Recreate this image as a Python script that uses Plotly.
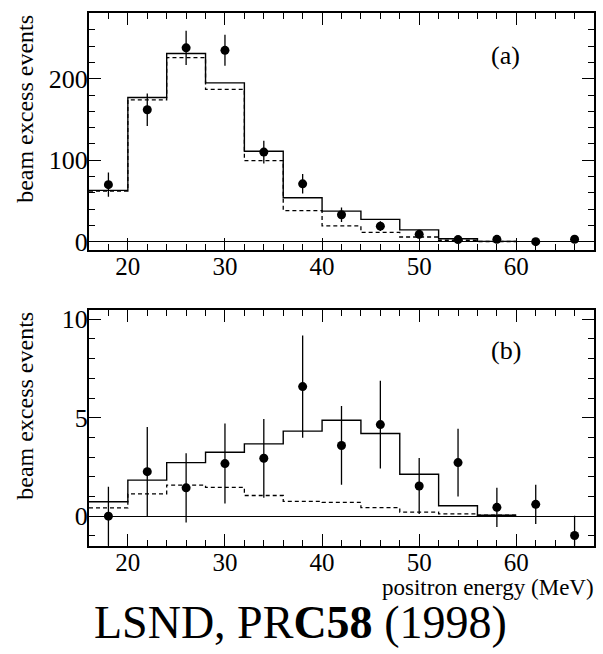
import plotly.graph_objects as go

# Bin edges (MeV) shared by both histograms
bin_edges = [16, 20, 24, 28, 32, 36, 40, 44, 48, 52, 56, 60]

# Panel (a): measured beam excess and two model predictions
a_energy = [18, 22, 26, 30, 34, 38, 42, 46, 50, 54, 58, 62, 66]
a_events = [70, 162, 238, 235, 110, 71, 33, 19, 9, 2.5, 2.8, 0, 3]
a_errors = [15, 20, 21, 19, 14, 12, 9, 6, 5, 3, 2, 2, 2]
a_solid = [63, 177, 231, 195, 111, 54, 37.5, 27.4, 14.5, 3.5, 0.4]
a_dashed = [62, 174, 226, 187, 99.5, 38, 19.5, 11.3, 5.7, 1.7, 0.2]

# Panel (b)
b_energy = [18, 22, 26, 30, 34, 38, 42, 46, 50, 54, 58, 62, 66]
b_events = [0.0, 2.26, 1.44, 2.67, 2.94, 6.58, 3.59, 4.65, 1.53, 2.72, 0.45, 0.6, -0.98]
b_errors = [1.5, 2.27, 1.76, 2.03, 2.0, 2.6, 2.0, 2.23, 1.42, 1.72, 1.0, 1.0, 1.0]
b_solid = [0.73, 1.83, 2.72, 3.25, 3.67, 4.32, 4.87, 4.2, 2.13, 0.53, 0.05]
b_dashed = [0.42, 1.13, 1.58, 1.46, 1.05, 0.75, 0.7, 0.43, 0.21, 0.12, 0.05]

x_ticks = [20, 30, 40, 50, 60]

FONT = "Liberation Serif"


def step_xy(values):
    return bin_edges, list(values) + [values[-1]]


fig = go.Figure()

for xa, ya, solid, dashed, ex, ey, ee in [
    ("x", "y", a_solid, a_dashed, a_energy, a_events, a_errors),
    ("x2", "y2", b_solid, b_dashed, b_energy, b_events, b_errors),
]:
    sx, sy = step_xy(solid)
    fig.add_trace(go.Scatter(x=sx, y=sy, mode="lines", line_shape="hv",
                             line=dict(color="black", width=1.4),
                             xaxis=xa, yaxis=ya, showlegend=False))
    dx, dy = step_xy(dashed)
    fig.add_trace(go.Scatter(x=dx, y=dy, mode="lines", line_shape="hv",
                             line=dict(color="black", width=1.3, dash="4px,3px"),
                             xaxis=xa, yaxis=ya, showlegend=False))
    fig.add_trace(go.Scatter(x=ex, y=ey, mode="markers",
                             marker=dict(color="black", size=9),
                             error_y=dict(type="data", array=ee, visible=True,
                                          color="black", thickness=1.3, width=0),
                             xaxis=xa, yaxis=ya, showlegend=False))

common_x = dict(
    range=[16, 68], tickmode="array", tickvals=x_ticks,
    ticks="inside", ticklen=12, tickwidth=1.3, tickcolor="black",
    minor=dict(dtick=2, tick0=16, ticks="inside", ticklen=6,
               tickwidth=1.1, tickcolor="black"),
    showline=True, linewidth=2, linecolor="black", mirror="allticks",
    showgrid=False, zeroline=False, ticklabelstandoff=-7,
    tickfont=dict(family=FONT, size=25, color="black"),
)
common_y = dict(
    ticks="inside", ticklen=12, tickwidth=1.3, tickcolor="black",
    showline=True, linewidth=2, linecolor="black", mirror="allticks",
    showgrid=False, zeroline=True, zerolinecolor="black", zerolinewidth=1.3,
    ticklabelstandoff=-6,
    tickfont=dict(family=FONT, size=26, color="black"),
)

top_dom = [1 - 250 / 654, 1 - 9 / 654]
bot_dom = [1 - 551 / 654, 1 - 311 / 654]
x_dom = [89 / 603, 594 / 603]

fig.update_layout(
    width=603, height=654,
    margin=dict(l=0, r=0, t=0, b=0),
    paper_bgcolor="white", plot_bgcolor="white",
    xaxis=dict(common_x, domain=x_dom, anchor="y"),
    yaxis=dict(common_y, domain=top_dom, anchor="x", range=[-10, 281],
               tickvals=[0, 100, 200],
               minor=dict(dtick=20, tick0=0, ticks="inside", ticklen=6,
                          tickwidth=1.1, tickcolor="black")),
    xaxis2=dict(common_x, domain=x_dom, anchor="y2"),
    yaxis2=dict(common_y, domain=bot_dom, anchor="x2", range=[-1.5, 10.48],
                tickvals=[0, 5, 10],
                minor=dict(dtick=1, tick0=0, ticks="inside", ticklen=6,
                           tickwidth=1.1, tickcolor="black")),
    font=dict(family=FONT, color="black"),
)

# panel labels, placed in each panel's data coordinates
fig.add_annotation(text="(a)", x=58.9, y=229, xref="x", yref="y",
                   showarrow=False, font=dict(family=FONT, size=26))
fig.add_annotation(text="(b)", x=58.9, y=8.4, xref="x2", yref="y2",
                   showarrow=False, font=dict(family=FONT, size=26))
for y_top in (top_dom[1], bot_dom[1]):
    fig.add_annotation(text="beam excess events", textangle=-90,
                       x=25 / 603, y=y_top, xref="paper", yref="paper",
                       xanchor="center", yanchor="top", showarrow=False,
                       font=dict(family=FONT, size=24))
fig.add_annotation(text="positron energy (MeV)", x=596 / 603, y=1 - 593 / 654,
                   xref="paper", yref="paper", xanchor="right", yanchor="middle",
                   showarrow=False, font=dict(family=FONT, size=23))
fig.add_annotation(text="LSND, PR<b>C58</b> (1998)", x=300 / 603, y=1 - 629 / 654,
                   xref="paper", yref="paper", xanchor="center", yanchor="middle",
                   showarrow=False, font=dict(family=FONT, size=46))

fig.write_html("out.html")
